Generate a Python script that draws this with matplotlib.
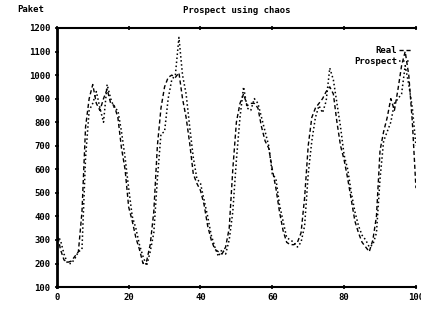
import matplotlib.pyplot as plt

# Stunde (0..100) und Paketanzahl
stunden = list(range(101))
real = [340, 260, 215, 205, 210, 230, 250, 420, 780, 900,
        960, 880, 850, 900, 940, 880, 870, 820, 690, 600,
        440, 380, 310, 260, 200, 210, 280, 420, 700, 860,
        950, 990, 1000, 990, 1010, 900, 820, 710, 580, 540,
        510, 450, 360, 300, 260, 250, 240, 270, 350, 600,
        800, 880, 920, 870, 880, 880, 860, 780, 720, 690,
        600, 520, 420, 340, 290, 280, 280, 290, 330, 480,
        700, 820, 860, 880, 900, 930, 950, 920, 800, 700,
        640, 560, 470, 380, 330, 290, 270, 250, 300, 400,
        680, 760, 820, 900, 850, 940, 1040, 1100, 1000, 800,
        520]
prospect = [320, 300, 240, 200, 200, 220, 250, 260, 650, 850,
            880, 930, 860, 800, 960, 900, 860, 850, 760, 650,
            520, 400, 350, 280, 230, 190, 250, 330, 560, 750,
            760, 900, 980, 1000, 1160, 1000, 920, 780, 650, 560,
            540, 470, 400, 320, 270, 230, 260, 240, 300, 420,
            640, 820, 950, 860, 850, 900, 880, 820, 760, 700,
            580, 560, 450, 380, 310, 300, 290, 270, 290, 360,
            580, 720, 820, 870, 840, 890, 1030, 980, 880, 780,
            660, 600, 500, 420, 360, 320, 300, 270, 280, 330,
            560, 720, 760, 800, 880, 900, 920, 1040, 960, 860,
            700]

schrift = {'family': 'DejaVu Sans Mono', 'weight': 'bold', 'size': 6.5}

fig = plt.figure(figsize=(4.21, 3.11), dpi=100)
ax = fig.add_axes([0.135, 0.077, 0.853, 0.833])

ax.plot(stunden, real, 'k--', lw=1.0, dashes=(3, 2), label='Real')
ax.plot(stunden, prospect, 'k:', lw=1.1, label='Prospect')

ax.set_xlim(0, 100)
ax.set_ylim(100, 1200)
ax.set_xticks([0, 20, 40, 60, 80, 100])
ax.set_yticks(range(100, 1201, 100))
ax.set_xticklabels(['0', '20', '40', '60', '80', '100'], fontdict=schrift)
ax.set_yticklabels([str(v) for v in range(100, 1201, 100)], fontdict=schrift)
ax.tick_params(axis='both', direction='inout', length=3, width=1.2, pad=3,
               top=True, right=False)

ax.spines['right'].set_visible(False)
ax.spines['left'].set_linewidth(2)
ax.spines['bottom'].set_linewidth(1.5)
ax.spines['top'].set_linewidth(1.5)

fig.text(0.04, 0.96, 'Paket', fontdict=schrift)
ax.set_title('Prospect using chaos', fontdict=schrift, pad=11)

ax.legend(loc='upper right', bbox_to_anchor=(1.0, 0.95), frameon=False,
          markerfirst=False, handlelength=1.3, handletextpad=0.2,
          labelspacing=0.2, borderpad=0.1,
          prop={'family': 'DejaVu Sans Mono', 'weight': 'bold', 'size': 6.5})

fig.savefig('out.png', dpi=100)
